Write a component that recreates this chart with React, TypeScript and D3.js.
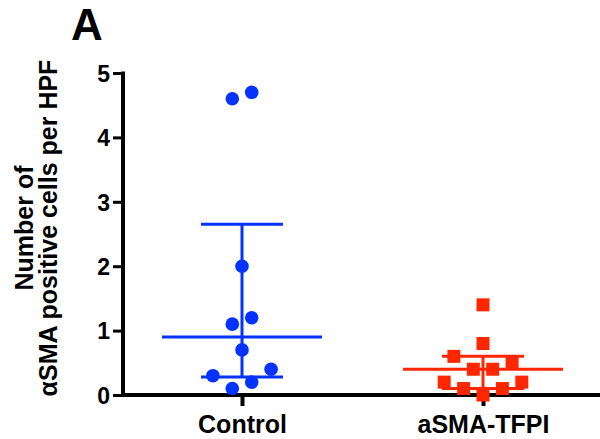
import React, { useEffect, useRef } from 'react';
import * as d3 from 'd3';

const groups = ['Control', 'aSMA-TFPI'];
const controlValues = [4.6, 4.7, 2.0, 1.1, 1.2, 0.7, 0.3, 0.4, 0.1, 0.2];
const controlJitter = [-1, 1, 0, -1, 1, 0, -3, 3, -1, 1];
const tfpiValues = [1.4, 0.8, 0.6, 0.5, 0.4, 0.4, 0.2, 0.2, 0.1, 0.1, 0.0];
const tfpiJitter = [0, 0, -3, 3, -1, 1, -4, 4, -2, 2, 0];
// median, Q1, Q3
const controlSummary = [0.9, 0.28, 2.65];
const tfpiSummary = [0.4, 0.1, 0.6];
const yTicks = [0, 1, 2, 3, 4, 5];

const BLUE = '#0433ff';
const RED = '#ff2600';

const App = () => {
    const svgRef = useRef<SVGSVGElement>(null);

    useEffect(() => {
        const svg = d3.select(svgRef.current);
        svg.selectAll('*').remove();

        const font = '"Liberation Sans", Arial, sans-serif';
        const x = d3.scalePoint().domain(groups).range([242, 483]);
        const y = d3.scaleLinear().domain([0, 5]).range([395, 73]);
        const jitterStep = 9.7;

        // panel letter
        svg.append('text')
            .attr('x', 71).attr('y', 40)
            .attr('font-family', font).attr('font-weight', 'bold')
            .attr('font-size', 44).text('A');

        // y axis
        const yAxis = svg.append('g').attr('transform', 'translate(123,0)')
            .call(d3.axisLeft(y).tickValues(yTicks).tickSize(10).tickPadding(3).tickFormat(d3.format('d')));
        yAxis.select('.domain').remove();
        yAxis.selectAll('line').attr('stroke', '#000').attr('stroke-width', 3);
        yAxis.selectAll('text').attr('font-family', font).attr('font-weight', 'bold')
            .attr('font-size', 23).attr('fill', '#000').attr('dy', '0.36em');
        svg.append('line').attr('x1', 123).attr('x2', 123).attr('y1', y(5) - 1.5).attr('y2', y(0) + 2)
            .attr('stroke', '#000').attr('stroke-width', 4);

        // x axis
        const xAxis = svg.append('g').attr('transform', 'translate(0,395)')
            .call(d3.axisBottom(x).tickSize(11).tickPadding(8));
        xAxis.select('.domain').remove();
        xAxis.selectAll('line').attr('stroke', '#000').attr('stroke-width', 4);
        xAxis.selectAll('text').attr('font-family', font).attr('font-weight', 'bold')
            .attr('font-size', 25).attr('fill', '#000').attr('dy', '0.76em');
        svg.append('line').attr('x1', 121).attr('x2', 600).attr('y1', y(0)).attr('y2', y(0))
            .attr('stroke', '#000').attr('stroke-width', 4);

        // y title
        const title = svg.append('text')
            .attr('transform', `translate(0,228) rotate(-90)`)
            .attr('text-anchor', 'middle')
            .attr('font-family', font).attr('font-weight', 'bold').attr('font-size', 25);
        title.append('tspan').attr('x', 0).attr('y', 33).text('Number of');
        title.append('tspan').attr('x', 0).attr('y', 57).text('\u03b1SMA positive cells per HPF');

        const drawSummary = (group: string, s: number[], color: string) => {
            const cx = x(group)!;
            const g = svg.append('g').attr('stroke', color).attr('stroke-width', 3);
            g.append('line').attr('x1', cx - 80).attr('x2', cx + 80).attr('y1', y(s[0])).attr('y2', y(s[0]));
            g.append('line').attr('x1', cx).attr('x2', cx).attr('y1', y(s[1])).attr('y2', y(s[2]));
            [s[1], s[2]].forEach(v => {
                g.append('line').attr('x1', cx - 41).attr('x2', cx + 41).attr('y1', y(v)).attr('y2', y(v));
            });
        };

        drawSummary('Control', controlSummary, BLUE);
        drawSummary('aSMA-TFPI', tfpiSummary, RED);

        svg.append('g').selectAll('circle')
            .data(controlValues)
            .join('circle')
            .attr('cx', (d, i) => x('Control')! + controlJitter[i] * jitterStep)
            .attr('cy', d => y(d))
            .attr('r', 6.8)
            .attr('fill', BLUE);

        const sq = 13;
        svg.append('g').selectAll('rect')
            .data(tfpiValues)
            .join('rect')
            .attr('x', (d, i) => x('aSMA-TFPI')! + tfpiJitter[i] * jitterStep - sq / 2)
            .attr('y', d => y(d) - sq / 2)
            .attr('width', sq).attr('height', sq)
            .attr('fill', RED);
    }, []);

    return (
        <svg ref={svgRef} width={600} height={439}
            style={{ position: 'absolute', left: 0, top: 0, background: '#fff' }} />
    );
};

export default App;
